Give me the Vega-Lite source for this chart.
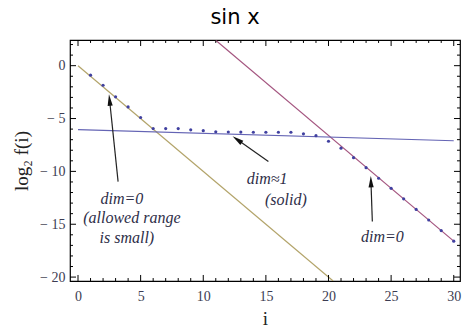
{
  "$schema": "https://vega.github.io/schema/vega-lite/v6.json",
  "width": 390,
  "height": 241,
  "autosize": "none",
  "padding": {"left": 70, "top": 40, "right": 2, "bottom": 46},
  "background": "white",
  "title": {
    "text": "sin x",
    "font": "DejaVu Sans",
    "fontSize": 21,
    "fontWeight": "normal",
    "color": "black",
    "anchor": "middle",
    "dx": -30,
    "offset": 12
  },
  "config": {
    "view": {"stroke": "black", "strokeWidth": 1.2},
    "axis": {
      "domain": false,
      "ticks": false,
      "grid": false,
      "labelFont": "Liberation Serif, Times New Roman, Times, serif",
      "labelFontSize": 14,
      "labelColor": "#3c3c52",
      "labelOverlap": false,
      "labelFlush": false,
      "titleFont": "Liberation Serif, Times New Roman, Times, serif",
      "titleFontWeight": "normal",
      "titleFontSize": 19,
      "titleColor": "#222222"
    }
  },
  "datasets": {
    "lines": [
      {"series": "olive", "x": 0, "y": 0},
      {"series": "olive", "x": 20.37, "y": -20.37},
      {"series": "magenta", "x": 10.97, "y": 2.43},
      {"series": "magenta", "x": 30, "y": -16.6},
      {"series": "blue", "x": 0, "y": -6.05},
      {"series": "blue", "x": 30, "y": -7.1}
    ],
    "points": [
      {"x": 1, "y": -0.9}, {"x": 2, "y": -1.85}, {"x": 3, "y": -2.95}, {"x": 4, "y": -3.9},
      {"x": 5, "y": -4.9}, {"x": 6, "y": -5.95}, {"x": 7, "y": -5.95}, {"x": 8, "y": -5.95},
      {"x": 9, "y": -6.07}, {"x": 10, "y": -6.15}, {"x": 11, "y": -6.25}, {"x": 12, "y": -6.27},
      {"x": 13, "y": -6.28}, {"x": 14, "y": -6.3}, {"x": 15, "y": -6.3}, {"x": 16, "y": -6.3},
      {"x": 17, "y": -6.3}, {"x": 18, "y": -6.45}, {"x": 19, "y": -6.62}, {"x": 20, "y": -7.15},
      {"x": 21, "y": -7.8}, {"x": 22, "y": -8.7}, {"x": 23, "y": -9.65}, {"x": 24, "y": -10.65},
      {"x": 25, "y": -11.6}, {"x": 26, "y": -12.6}, {"x": 27, "y": -13.6}, {"x": 28, "y": -14.6},
      {"x": 29, "y": -15.6}, {"x": 30, "y": -16.6}
    ],
    "arrows": [
      {"x": 3.2, "y": -10.97, "x2": 2.52, "y2": -3.25, "angle": -6},
      {"x": 15.2, "y": -9.07, "x2": 12.71, "y2": -6.99, "angle": -54.5},
      {"x": 23.5, "y": -14.75, "x2": 23.39, "y2": -10.97, "angle": -1.7}
    ],
    "labels": [
      {"x": 3.5, "y": -12.6, "text": "dim=0"},
      {"x": 4.3, "y": -14.4, "text": "(allowed  range"},
      {"x": 3.9, "y": -16.3, "text": "is small)"},
      {"x": 15.1, "y": -10.7, "text": "dim≈1"},
      {"x": 16.6, "y": -12.7, "text": "(solid)"},
      {"x": 24.3, "y": -16.2, "text": "dim=0"}
    ],
    "xmajor": [{"v": 0}, {"v": 5}, {"v": 10}, {"v": 15}, {"v": 20}, {"v": 25}, {"v": 30}],
    "xminor": [{"v": 1}, {"v": 2}, {"v": 3}, {"v": 4}, {"v": 6}, {"v": 7}, {"v": 8}, {"v": 9}, {"v": 11}, {"v": 12}, {"v": 13}, {"v": 14}, {"v": 16}, {"v": 17}, {"v": 18}, {"v": 19}, {"v": 21}, {"v": 22}, {"v": 23}, {"v": 24}, {"v": 26}, {"v": 27}, {"v": 28}, {"v": 29}],
    "ymajor": [{"v": 0}, {"v": -5}, {"v": -10}, {"v": -15}, {"v": -20}],
    "yminor": [{"v": 2}, {"v": 1}, {"v": -1}, {"v": -2}, {"v": -3}, {"v": -4}, {"v": -6}, {"v": -7}, {"v": -8}, {"v": -9}, {"v": -11}, {"v": -12}, {"v": -13}, {"v": -14}, {"v": -16}, {"v": -17}, {"v": -18}, {"v": -19}]
  },
  "layer": [
    {
      "data": {"name": "lines"},
      "mark": {"type": "line", "strokeWidth": 1.2, "clip": true},
      "encoding": {
        "x": {
          "field": "x", "type": "quantitative",
          "scale": {"domain": [-0.64, 30.5], "nice": false, "zero": false},
          "axis": {
            "orient": "bottom",
            "title": "i",
            "titlePadding": 6,
            "values": [0, 5, 10, 15, 20, 25, 30],
            "labelPadding": 8,
            "format": "d"
          }
        },
        "y": {
          "field": "y", "type": "quantitative",
          "scale": {"domain": [-20.37, 2.43], "nice": false, "zero": false},
          "axis": {
            "orient": "left",
            "title": "log₂ f(i)",
            "titlePadding": 8,
            "values": [0, -5, -10, -15, -20],
            "labelPadding": 5,
            "labelExpr": "datum.value < 0 ? '− ' + format(-datum.value, 'd') : format(datum.value, 'd')"
          }
        },
        "color": {
          "field": "series", "type": "nominal",
          "scale": {"domain": ["olive", "magenta", "blue"], "range": ["#b3a46a", "#a4557f", "#6464b4"]},
          "legend": null
        },
        "detail": {"field": "series"}
      }
    },
    {
      "mark": {"type": "rule", "color": "black", "strokeWidth": 1.2},
      "encoding": {"y": {"datum": 0}}
    },
    {
      "data": {"name": "xmajor"},
      "mark": {"type": "rule", "color": "black", "strokeWidth": 1},
      "encoding": {
        "x": {"field": "v", "type": "quantitative", "axis": null},
        "y": {"datum": -20.37, "type": "quantitative", "axis": null},
        "y2": {"datum": -19.8}
      }
    },
    {
      "data": {"name": "xmajor"},
      "mark": {"type": "rule", "color": "black", "strokeWidth": 1},
      "encoding": {
        "x": {"field": "v", "type": "quantitative", "axis": null},
        "y": {"datum": 2.43, "type": "quantitative", "axis": null},
        "y2": {"datum": 1.86}
      }
    },
    {
      "data": {"name": "xminor"},
      "mark": {"type": "rule", "color": "black", "strokeWidth": 1},
      "encoding": {
        "x": {"field": "v", "type": "quantitative", "axis": null},
        "y": {"datum": -20.37, "type": "quantitative", "axis": null},
        "y2": {"datum": -20.09}
      }
    },
    {
      "data": {"name": "xminor"},
      "mark": {"type": "rule", "color": "black", "strokeWidth": 1},
      "encoding": {
        "x": {"field": "v", "type": "quantitative", "axis": null},
        "y": {"datum": 2.43, "type": "quantitative", "axis": null},
        "y2": {"datum": 2.15}
      }
    },
    {
      "data": {"name": "ymajor"},
      "mark": {"type": "rule", "color": "black", "strokeWidth": 1},
      "encoding": {
        "y": {"field": "v", "type": "quantitative", "axis": null},
        "x": {"datum": -0.64, "type": "quantitative", "axis": null},
        "x2": {"datum": -0.16}
      }
    },
    {
      "data": {"name": "ymajor"},
      "mark": {"type": "rule", "color": "black", "strokeWidth": 1},
      "encoding": {
        "y": {"field": "v", "type": "quantitative", "axis": null},
        "x": {"datum": 30.5, "type": "quantitative", "axis": null},
        "x2": {"datum": 30.02}
      }
    },
    {
      "data": {"name": "yminor"},
      "mark": {"type": "rule", "color": "black", "strokeWidth": 1},
      "encoding": {
        "y": {"field": "v", "type": "quantitative", "axis": null},
        "x": {"datum": -0.64, "type": "quantitative", "axis": null},
        "x2": {"datum": -0.4}
      }
    },
    {
      "data": {"name": "yminor"},
      "mark": {"type": "rule", "color": "black", "strokeWidth": 1},
      "encoding": {
        "y": {"field": "v", "type": "quantitative", "axis": null},
        "x": {"datum": 30.5, "type": "quantitative", "axis": null},
        "x2": {"datum": 30.26}
      }
    },
    {
      "data": {"name": "points"},
      "mark": {"type": "circle", "size": 10, "color": "#4040a0", "opacity": 1},
      "encoding": {
        "x": {"field": "x", "type": "quantitative", "axis": null},
        "y": {"field": "y", "type": "quantitative", "axis": null}
      }
    },
    {
      "data": {"name": "arrows"},
      "mark": {"type": "rule", "color": "#222222", "strokeWidth": 1.2},
      "encoding": {
        "x": {"field": "x", "type": "quantitative", "axis": null},
        "y": {"field": "y", "type": "quantitative", "axis": null},
        "x2": {"field": "x2"},
        "y2": {"field": "y2"}
      }
    },
    {
      "data": {"name": "arrows"},
      "mark": {"type": "point", "shape": "M0,-1L-0.45,1L0.45,1Z", "filled": true, "size": 130, "color": "#111111", "opacity": 1, "strokeWidth": 0},
      "encoding": {
        "x": {"field": "x2", "type": "quantitative", "axis": null},
        "y": {"field": "y2", "type": "quantitative", "axis": null},
        "angle": {"field": "angle", "type": "quantitative", "scale": null}
      }
    },
    {
      "data": {"name": "labels"},
      "mark": {"type": "text", "font": "Liberation Serif, Times New Roman, Times, serif", "fontStyle": "italic", "fontSize": 16, "color": "#2e2e48", "align": "center", "baseline": "middle"},
      "encoding": {
        "x": {"field": "x", "type": "quantitative", "axis": null},
        "y": {"field": "y", "type": "quantitative", "axis": null},
        "text": {"field": "text"}
      }
    }
  ],
  "resolve": {"axis": {"x": "independent", "y": "independent"}}
}
